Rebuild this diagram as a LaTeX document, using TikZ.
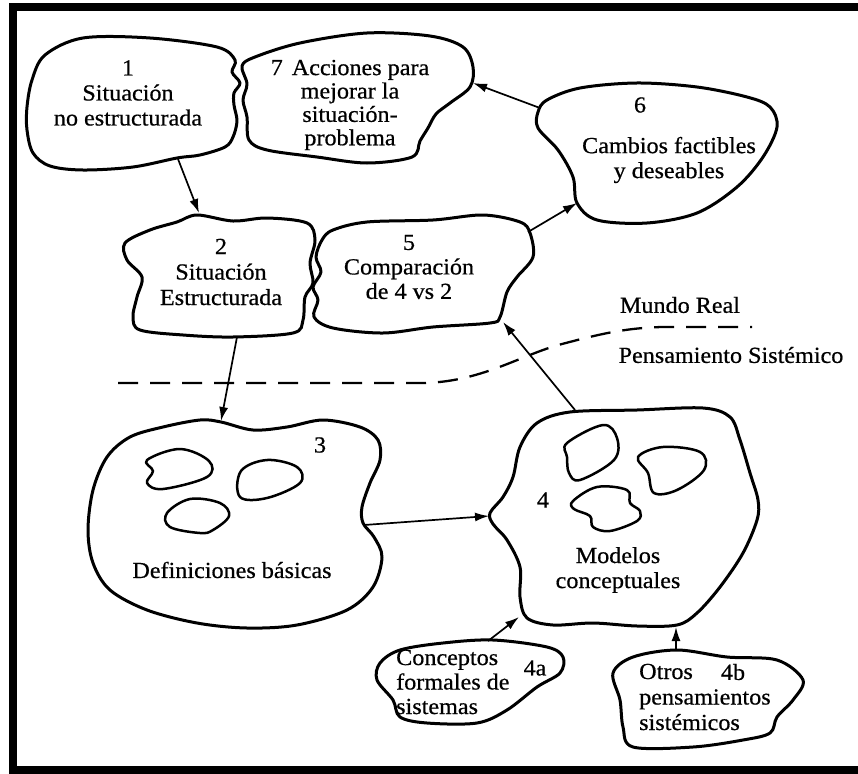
\documentclass[tikz,border=0pt]{standalone}
\usepackage{fontspec}
\setmainfont{Liberation Serif}[FakeStretch=1.05, FakeBold=0.6]
\usetikzlibrary{arrows.meta}

\begin{document}
\begin{tikzpicture}[x=1pt,y=-1pt,
  blob/.style={line width=3pt, line join=round},
  innerblob/.style={line width=2.5pt, line join=round},
  link/.style={line width=1.7pt, -{Latex[length=14pt,width=9pt]}},
  boundary/.style={line width=2.3pt, dash pattern=on 20pt off 12pt},
  txt/.style={font=\fontsize{23}{25}\selectfont, align=center, inner sep=0pt},
  txtl/.style={font=\fontsize{23}{25}\selectfont, align=left, inner sep=0pt, anchor=west},
  frame/.style={line width=8pt}
]
\useasboundingbox (0,0) rectangle (858,773);
\clip (0,0) rectangle (858,773);

% outer frame, open on the right
\draw[frame] (880,7) -- (13,7) -- (13,770) -- (880,770);

% 1: unstructured situation
\draw[blob] plot[smooth cycle, tension=0.55] coordinates {
  (45,55) (83,38) (150,38) (217,47) (235,60) (232,72) (240,83) (234,93)
  (234,105) (237,121) (233,137) (225,147) (200,155) (177,158) (133,167)
  (83,170) (50,166) (33,153) (27,130) (27,107) (32,80)};
\node[txt] (t1) at (128,93) {1\\Situación\\no estructurada};

% 7: actions to improve
\draw[blob] plot[smooth cycle, tension=0.55] coordinates {
  (242,66) (255,57) (300,43) (367,33) (430,36) (463,47) (473,67) (470,87)
  (450,103) (436,114) (428,128) (420,141) (412,157) (367,163) (317,157)
  (267,150) (249,140) (247,117) (243,100) (247,84)};
\node[txt, font=\fontsize{23}{23.4}\selectfont] (t7) at (350,105)
  {7\hspace{9pt}Acciones para\\mejorar la\\situación-\\problema};

% 6: feasible and desirable changes
\draw[blob] plot[smooth cycle, tension=0.55] coordinates {
  (547,100) (580,88) (637,83) (697,87) (747,97) (770,107) (777,127)
  (763,157) (737,187) (697,213) (647,223) (597,220) (577,203) (573,177)
  (558,150) (538,128) (538,112)};
\node[txt] (t6n) at (640,105) {6};
\node[txt] (t6) at (669,160) {Cambios factibles\\y deseables};

% 2: structured situation
\draw[blob] plot[smooth cycle, tension=0.55] coordinates {
  (125,243) (150,230) (177,222) (197,215) (233,221) (267,218) (307,223)
  (315,240) (310,263) (313,283) (305,297) (303,320) (293,333) (233,337)
  (183,335) (140,330) (133,317) (137,297) (142,277) (127,260)};
\node[txt, font=\fontsize{23}{25.5}\selectfont] (t2) at (221,272)
  {2\\Situación\\Estructurada};

% 5: comparison
\draw[blob] plot[smooth cycle, tension=0.55] coordinates {
  (333,230) (367,222) (433,220) (483,215) (520,222) (530,233) (533,257)
  (517,277) (507,292) (500,317) (490,323) (433,327) (383,333) (333,328)
  (314,317) (318,300) (313,287) (321,272) (316,257) (322,240)};
\node[txt, font=\fontsize{23}{24.5}\selectfont] (t5) at (409,267)
  {5\\Comparación\\de 4 vs 2};

% boundary between the real world and systems thinking
\draw[boundary] (118,383) -- (420,383)
  .. controls (480,383) and (520,355) .. (562,344)
  .. controls (600,334) and (625,328) .. (662,327) -- (752,327);
\node[txt] (mr) at (680,305) {Mundo Real};
\node[txt] (ps) at (731,355) {Pensamiento Sistémico};

% 3: root definitions
\draw[blob] plot[smooth cycle, tension=0.55] coordinates {
  (221,422) (200,420) (163,427) (130,437) (107,457) (93,490) (88,530)
  (93,563) (110,590) (147,610) (197,623) (247,628) (297,625) (347,610)
  (373,587) (382,557) (374,537) (363,523) (362,507) (370,483) (380,460)
  (378,440) (360,427) (323,420) (287,427) (253,430)};
\draw[innerblob] plot[smooth cycle, tension=0.6] coordinates {
  (147,460) (180,449) (209,461) (207,477) (163,489) (147,483) (153,471)};
\draw[innerblob] plot[smooth cycle, tension=0.6] coordinates {
  (241,471) (267,460) (297,467) (300,483) (267,498) (240,497)};
\draw[innerblob] plot[smooth cycle, tension=0.6] coordinates {
  (167,513) (190,499) (220,503) (229,516) (213,530) (200,533) (170,527)};
\node[txt] (t3n) at (320,445) {3};
\node[txt] (t3) at (232,570) {Definiciones básicas};

% 4: conceptual models
\draw[blob] plot[smooth cycle, tension=0.55] coordinates {
  (490,513) (503,497) (513,477) (520,447) (537,423) (570,412) (637,410)
  (703,408) (730,417) (740,440) (750,473) (758,500) (757,520) (743,553)
  (720,587) (697,613) (677,625) (637,626) (593,623) (553,625) (527,618)
  (520,597) (520,567) (507,540) (493,524)};
\draw[innerblob] plot[smooth cycle, tension=0.6] coordinates {
  (567,443) (603,425) (617,438) (614,460) (580,480) (569,473) (567,457)};
\draw[innerblob] plot[smooth cycle, tension=0.6] coordinates {
  (638,457) (663,447) (700,452) (704,470) (677,490) (654,493) (648,473)};
\draw[innerblob] plot[smooth cycle, tension=0.6] coordinates {
  (573,501) (597,487) (627,490) (630,503) (640,511) (637,521) (610,531)
  (593,527) (590,516) (574,509)};
\node[txt] (t4n) at (543,500) {4};
\node[txt] (t4) at (618,570) {Modelos\\conceptuales};

% 4a: formal systems concepts
\draw[blob] plot[smooth cycle, tension=0.55] coordinates {
  (380,663) (400,650) (443,643) (493,640) (547,647) (563,657) (560,673)
  (537,687) (507,710) (477,723) (427,723) (400,717) (393,700) (377,680)};
\node[txtl, font=\fontsize{23}{24.5}\selectfont] (t4a) at (396,682)
  {Conceptos\\formales de\\sistemas};
\node[txt] (t4an) at (535,668) {4a};

% 4b: other systems thinking
\draw[blob] plot[smooth cycle, tension=0.55] coordinates {
  (613,673) (633,657) (677,650) (727,657) (777,660) (803,680) (793,700)
  (777,717) (770,733) (743,740) (693,747) (633,747) (623,727) (620,700)};
\node[txtl, font=\fontsize{23}{25.5}\selectfont] (t4b) at (639,697)
  {Otros\\pensamientos\\sistémicos};
\node[txt] (t4bn) at (733,672) {4b};

% connector end points on the outlines
\coordinate (s1) at (178,159);  \coordinate (e2) at (199,213);
\coordinate (s2) at (237,337);  \coordinate (e3) at (221,421);
\coordinate (s3) at (364,525);  \coordinate (e4) at (489,516);
\coordinate (s4) at (575,410);  \coordinate (e5) at (503,322);
\coordinate (s5) at (528,232);  \coordinate (e6) at (577,203);
\coordinate (s6) at (540,108);  \coordinate (e7) at (473,83);
\coordinate (s4a) at (488,641); \coordinate (e4a) at (519,617);
\coordinate (s4b) at (676,650); \coordinate (e4b) at (676,627);

\draw[link] (s1) -- (e2);
\draw[link] (s2) -- (e3);
\draw[link] (s3) -- (e4);
\draw[link] (s4) -- (e5);
\draw[link] (s5) -- (e6);
\draw[link] (s6) -- (e7);
\draw[link] (s4a) -- (e4a);
\draw[link] (s4b) -- (e4b);
\end{tikzpicture}
\end{document}
